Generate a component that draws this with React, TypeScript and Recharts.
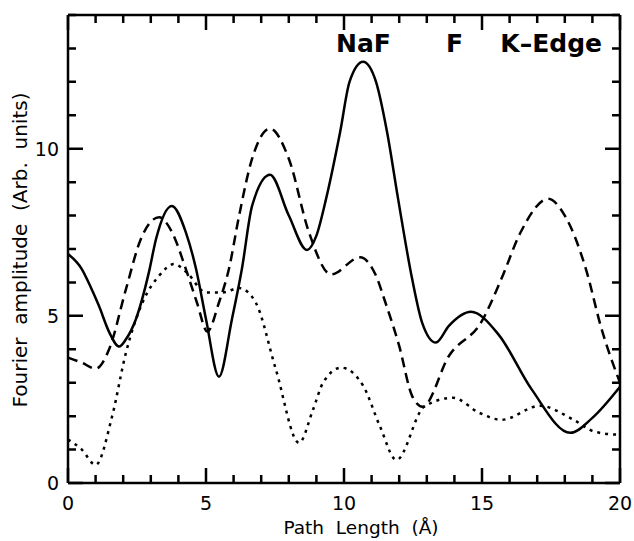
import { LineChart, Line, XAxis, YAxis, ReferenceLine } from "recharts";

// Solid curve
const solidX = [0, 0.5, 0.8, 1.12, 1.5, 1.85, 2.1, 2.46, 2.93, 3.19, 3.76, 4.27, 4.64, 5.0, 5.47, 5.94, 6.3, 6.67, 7.32, 8.0, 8.66, 9.0, 9.35, 9.86, 10.2, 10.69, 11.16, 11.56, 11.96, 12.47, 12.83, 13.33, 13.8, 14.6, 15.6, 16.8, 18.2, 19.0, 20.0];
const solidY = [6.85, 6.4, 5.9, 5.3, 4.5, 4.08, 4.3, 4.9, 6.3, 7.3, 8.29, 7.5, 6.4, 4.9, 3.18, 4.9, 6.4, 8.29, 9.22, 8.0, 6.97, 7.4, 8.5, 10.5, 12.0, 12.6, 12.0, 10.5, 8.5, 6.1, 4.8, 4.2, 4.7, 5.12, 4.44, 2.8, 1.5, 1.95, 2.88];

// Dashed curve
const dashX = [0, 0.5, 1.0, 1.49, 2.1, 2.64, 3.3, 3.77, 4.27, 4.67, 5.05, 5.47, 5.83, 6.2, 6.67, 7.32, 8.0, 8.73, 9.53, 10.58, 11.16, 11.5, 12.0, 12.47, 12.85, 13.8, 15.0, 15.7, 16.4, 17.4, 18.0, 18.8, 19.3, 20.0];
const dashY = [3.75, 3.6, 3.42, 4.0, 5.8, 7.3, 7.95, 7.5, 6.4, 5.4, 4.53, 5.4, 6.4, 8.0, 9.7, 10.6, 9.7, 7.5, 6.24, 6.75, 6.2, 5.4, 4.1, 2.6, 2.28, 3.8, 4.85, 6.1, 7.5, 8.5, 8.0, 6.3, 4.7, 3.0];

// Dotted curve
const dotX = [0, 0.5, 1.0, 1.6, 2.1, 2.7, 3.3, 3.84, 4.3, 5.0, 5.6, 6.2, 6.8, 7.53, 8.37, 8.88, 9.24, 9.9, 10.7, 11.3, 11.9, 12.9, 13.95, 14.9, 15.7, 17.1, 18.3, 19.1, 20.0];
const dotY = [1.3, 1.0, 0.54, 2.0, 3.9, 5.4, 6.2, 6.55, 6.3, 5.7, 5.7, 5.83, 5.4, 3.4, 1.2, 2.2, 3.0, 3.45, 2.9, 1.7, 0.69, 2.28, 2.55, 2.1, 1.89, 2.31, 1.9, 1.53, 1.44];

const xTicks = [0, 1, 2, 3, 4, 5, 6, 7, 8, 9, 10, 11, 12, 13, 14, 15, 16, 17, 18, 19, 20];
const yTicks = [0, 1, 2, 3, 4, 5, 6, 7, 8, 9, 10, 11, 12, 13, 14];

const toRows = (xs: number[], ys: number[]) => xs.map((x, i) => ({ x, y: ys[i] }));

const FONT = "'DejaVu Sans', sans-serif";
const MAJOR = 15;
const MINOR = 8;

// tick marks pointing into the plot, drawn at both ends of a reference line
const tickLen = (v: number) => (v % 5 === 0 ? MAJOR : MINOR);

const VTicks = (props: any) => {
  const x = Number(props.x1);
  const yb = Math.max(props.y1, props.y2);
  const yt = Math.min(props.y1, props.y2);
  const len = tickLen(props.value);
  return (
    <path d={`M${x},${yb}V${yb - len}M${x},${yt}V${yt + len}`} stroke="#000" strokeWidth={2.5} fill="none" />
  );
};

const HTicks = (props: any) => {
  const y = Number(props.y1);
  const xl = Math.min(props.x1, props.x2);
  const xr = Math.max(props.x1, props.x2);
  const len = tickLen(props.value);
  return (
    <path d={`M${xl},${y}H${xl + len}M${xr},${y}H${xr - len}`} stroke="#000" strokeWidth={2.5} fill="none" />
  );
};

const BottomLabel = (props: any) => {
  const v = props.payload.value;
  if (v % 5 !== 0) return <g />;
  return (
    <text x={props.x} y={Number(props.y) + 27} textAnchor="middle" fontSize={19} fontFamily={FONT} fill="#000">
      {v}
    </text>
  );
};

const LeftLabel = (props: any) => {
  const v = props.payload.value;
  if (v % 5 !== 0) return <g />;
  return (
    <text x={Number(props.x) - 9} y={Number(props.y) + 7} textAnchor="end" fontSize={19} fontFamily={FONT} fill="#000">
      {v}
    </text>
  );
};

export default function App() {
  const axisLine = { stroke: "#000", strokeWidth: 2.5 };
  return (
    <div style={{ position: "absolute", left: 0, top: 0, background: "#fff" }}>
      <LineChart width={634} height={541} margin={{ top: 14, right: 13, bottom: 13, left: 8 }}>
        <XAxis
          xAxisId="b"
          type="number"
          dataKey="x"
          domain={[0, 20]}
          ticks={xTicks}
          interval={0}
          height={45}
          tickSize={0}
          tickMargin={0}
          tickLine={false}
          axisLine={axisLine}
          tick={BottomLabel}
        />
        <XAxis
          xAxisId="t"
          orientation="top"
          type="number"
          dataKey="x"
          domain={[0, 20]}
          height={1}
          tick={false}
          tickLine={false}
          axisLine={axisLine}
        />
        <YAxis
          yAxisId="l"
          type="number"
          domain={[0, 14]}
          ticks={yTicks}
          interval={0}
          width={60}
          tickSize={0}
          tickMargin={0}
          tickLine={false}
          axisLine={axisLine}
          tick={LeftLabel}
        />
        <YAxis
          yAxisId="r"
          orientation="right"
          type="number"
          domain={[0, 14]}
          width={1}
          tick={false}
          tickLine={false}
          axisLine={axisLine}
        />
        {xTicks.map((v) => (
          <ReferenceLine
            key={`x${v}`}
            xAxisId="b"
            yAxisId="l"
            x={v}
            shape={(p: any) => <VTicks {...p} value={v} />}
          />
        ))}
        {yTicks.map((v) => (
          <ReferenceLine
            key={`y${v}`}
            xAxisId="b"
            yAxisId="l"
            y={v}
            shape={(p: any) => <HTicks {...p} value={v} />}
          />
        ))}
        <Line
          xAxisId="b"
          yAxisId="l"
          data={toRows(solidX, solidY)}
          dataKey="y"
          type="monotone"
          stroke="#000"
          strokeWidth={2.5}
          dot={false}
          isAnimationActive={false}
        />
        <Line
          xAxisId="b"
          yAxisId="l"
          data={toRows(dashX, dashY)}
          dataKey="y"
          type="monotone"
          stroke="#000"
          strokeWidth={2.5}
          strokeDasharray="10 6"
          dot={false}
          isAnimationActive={false}
        />
        <Line
          xAxisId="b"
          yAxisId="l"
          data={toRows(dotX, dotY)}
          dataKey="y"
          type="monotone"
          stroke="#000"
          strokeWidth={2.5}
          strokeDasharray="3 5"
          dot={false}
          isAnimationActive={false}
        />
        <text x={336} y={52} fontSize={25} fontWeight="bold" fontFamily={FONT} fill="#000">NaF</text>
        <text x={446} y={52} fontSize={25} fontWeight="bold" fontFamily={FONT} fill="#000">F</text>
        <text x={602} y={52} textAnchor="end" fontSize={25} fontWeight="bold" fontFamily={FONT} fill="#000">K–Edge</text>
        <text x={361} y={534} textAnchor="middle" fontSize={18.5} fontFamily={FONT} fill="#000" style={{ whiteSpace: "pre" }}>
          {"Path  Length  (Å)"}
        </text>
        <text
          x={27}
          y={250}
          transform="rotate(-90 27 250)"
          textAnchor="middle"
          fontSize={20}
          fontFamily={FONT}
          fill="#000"
          style={{ whiteSpace: "pre" }}
        >
          {"Fourier  amplitude  (Arb.  units)"}
        </text>
      </LineChart>
    </div>
  );
}
